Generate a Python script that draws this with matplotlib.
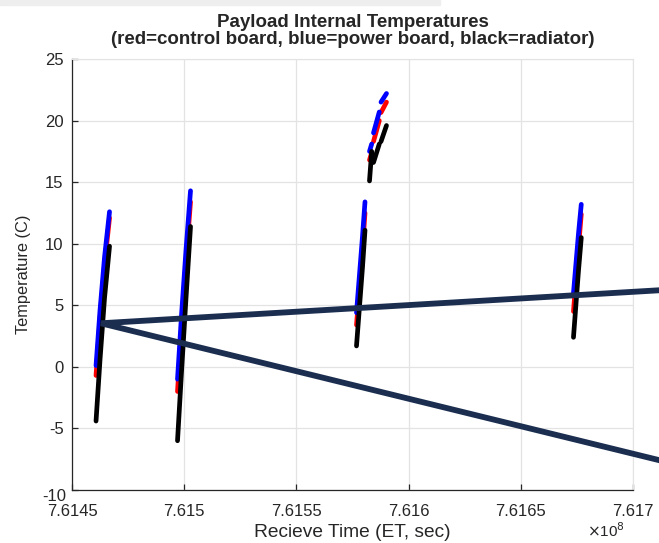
import numpy as np
import matplotlib
matplotlib.use("Agg")
import matplotlib.pyplot as plt
from matplotlib.patches import Rectangle
from matplotlib.ticker import FuncFormatter

plt.rcParams['font.family'] = ['Liberation Sans', 'DejaVu Sans']
plt.rcParams['axes.unicode_minus'] = False

nan = np.nan

# receive time (ET, sec); NaN breaks the line between passes / dropouts
recv_time = [
    761460695, 761462478, 761464483, 761466711, nan,
    761497014, 761498796, 761500801, 761502807, nan,
    761576782, 761578119, 761579456, 761580570, nan,
    761582575, 761583555, nan,
    761584357, 761586942, nan,
    761587700, 761590150, nan,
    761673483, 761674597, 761675711, 761676959,
]

# temperatures (C)
control_board = [
    -0.7, 3.9, 8.3, 12.1, nan,
    -2.0, 3.2, 8.6, 13.4, nan,
    3.4, 6.5, 9.6, 12.5, nan,
    16.8, 17.4, nan,
    18.3, 20.0, nan,
    20.65, 21.5, nan,
    4.5, 7.1, 9.7, 12.4,
]
power_board = [
    0.1, 4.6, 8.9, 12.6, nan,
    -1.0, 4.2, 9.5, 14.3, nan,
    4.4, 7.5, 10.6, 13.4, nan,
    17.5, 18.1, nan,
    19.0, 20.7, nan,
    21.5, 22.2, nan,
    6.0, 8.4, 10.8, 13.2,
]
radiator = [
    -4.4, 0.6, 5.6, 9.8, nan,
    -6.0, -0.4, 5.6, 11.4, nan,
    1.7, 4.9, 8.1, 11.1, nan,
    15.1, 17.5, nan,
    16.6, 18.1, nan,
    18.3, 19.6, nan,
    2.4, 5.1, 7.8, 10.5,
]

# callout pointer drawn over the plot (upper end, tip, lower end)
callout_time = [761720928, 761462923, 761720928]
callout_temp = [6.32, 3.54, -7.99]

x_ticks = [761450000, 761500000, 761550000, 761600000, 761650000, 761700000]
y_ticks = [-10, -5, 0, 5, 10, 15, 20, 25]

grid_col = '#e3e3e3'
text_col = '#262626'

fig = plt.figure(figsize=(6.59, 5.43), dpi=100)
fig.patches.append(Rectangle((0, 1 - 5 / 543), 440 / 659, 5 / 543,
                             transform=fig.transFigure, color='#eeeeee', zorder=0))
ax = fig.add_axes([0.1093, 0.0976, 0.8512, 0.7937])

lw = 3.4
ax.plot(recv_time, control_board, color='red', lw=lw, solid_capstyle='round', zorder=3)
ax.plot(recv_time, power_board, color='blue', lw=lw, solid_capstyle='round', zorder=4)
ax.plot(recv_time, radiator, color='black', lw=lw, solid_capstyle='round', zorder=5)

ax.plot(callout_time, callout_temp, color='#1b2e50', lw=4.2, clip_on=False,
        solid_joinstyle='miter', zorder=6)

ax.set_xlim(761450000, 761700000)
ax.set_ylim(-10, 25)
ax.set_xticks(x_ticks)
ax.set_yticks(y_ticks)
ax.xaxis.set_major_formatter(FuncFormatter(lambda v, p: f'{v / 1e8:.5g}'))
# lowest y label is placed by hand a bit lower, clear of the x labels
ax.yaxis.set_major_formatter(FuncFormatter(lambda v, p: '' if v == -10 else f'{v:g}'))
ax.annotate('-10', xy=(0, -10), xycoords=('axes fraction', 'data'),
            xytext=(-4.5, -5), textcoords='offset points', ha='right', va='center',
            fontsize=12, color=text_col)

ax.grid(True, color=grid_col, lw=0.9)
ax.set_axisbelow(True)
for side in ['top', 'right']:
    ax.spines[side].set_color(grid_col)
for side in ['left', 'bottom']:
    ax.spines[side].set_color(text_col)
    ax.spines[side].set_linewidth(0.9)

ax.tick_params(axis='both', direction='in', length=4, width=0.9, color=text_col,
               labelcolor=text_col, labelsize=12)
ax.tick_params(axis='x', pad=10)
ax.tick_params(axis='y', pad=6)

ax.set_xlabel('Recieve Time (ET, sec)', fontsize=13.8, color=text_col, labelpad=4)
ax.set_ylabel('Temperature (C)', fontsize=11.8, color=text_col, labelpad=10)
ax.set_title('Payload Internal Temperatures\n'
             '(red=control board, blue=power board, black=radiator)',
             fontsize=13.5, fontweight='bold', color=text_col, linespacing=0.95, pad=11)

fig.text(587 / 659, 1 - 537 / 543, r'$\times$10$^{8}$', fontsize=11, color=text_col,
         ha='left', va='baseline')

fig.savefig('out.png', dpi=100)
